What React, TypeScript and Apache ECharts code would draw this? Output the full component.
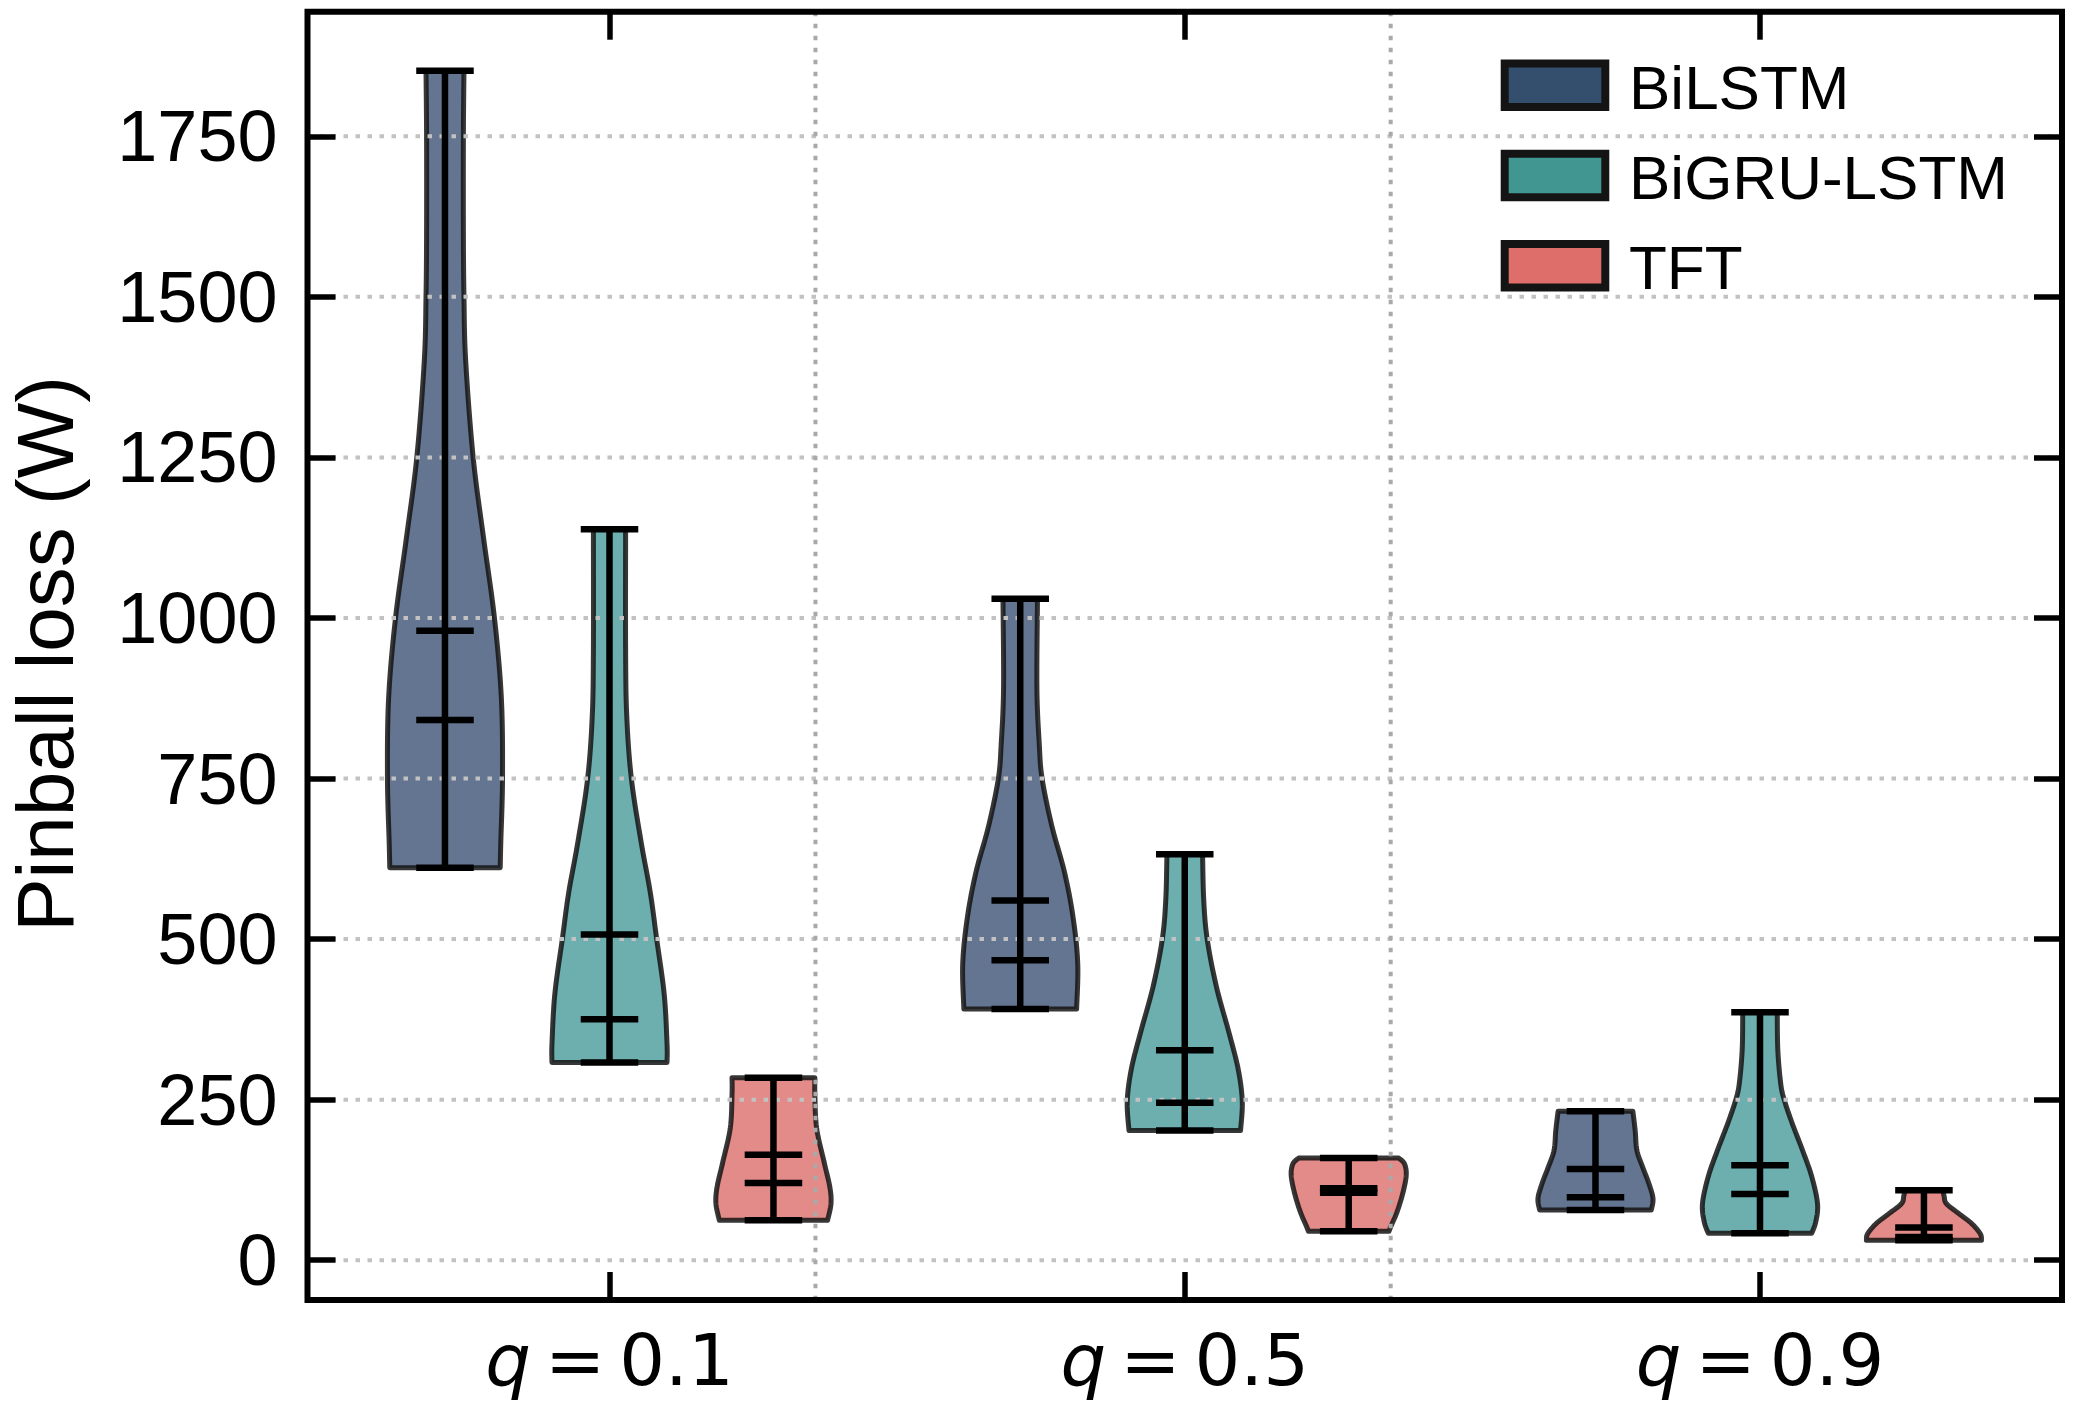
import React, { useEffect, useRef } from "react";
import * as echarts from "echarts";

// ---------- data ----------
const groupLabels = ["0.1", "0.5", "0.9"];
const models = ["BiLSTM", "BiGRU-LSTM", "TFT"];
const modelOffsets = [-0.286, 0, 0.285];
const separators = [0.358, 1.358];
const yTicks = [0, 250, 500, 750, 1000, 1250, 1500, 1750];
const xTicks = [0, 1, 2];

// per group: [min, median, mean, max]
const bilstmStats = [
  [611, 841, 980, 1852],
  [391, 467, 560, 1030],
  [78, 98, 142, 232],
];
const bigruStats = [
  [308, 375, 507, 1138],
  [202, 245, 327, 632],
  [42, 103, 148, 386],
];
const tftStats = [
  [62, 120, 164, 284],
  [45, 105, 112, 159],
  [31, 36, 51, 109],
];

// violin outline: [value, relative half width]
const bilstmProfiles = [
  [[611, 0.96], [650, 0.97], [750, 1.0], [875, 0.98], [1000, 0.86], [1125, 0.67], [1250, 0.49], [1400, 0.36], [1500, 0.33], [1600, 0.32], [1750, 0.32], [1852, 0.33]],
  [[391, 0.98], [461, 1.0], [533, 0.92], [604, 0.77], [676, 0.55], [750, 0.38], [805, 0.33], [890, 0.29], [1030, 0.3]],
  [[78, 0.97], [96, 1.0], [119, 0.93], [145, 0.82], [171, 0.72], [202, 0.69], [232, 0.65]],
];
const bigruProfiles = [
  [[308, 1.0], [337, 1.0], [415, 0.95], [500, 0.82], [572, 0.71], [651, 0.55], [750, 0.38], [847, 0.3], [950, 0.28], [1138, 0.28]],
  [[202, 0.97], [247, 1.0], [297, 0.93], [354, 0.77], [426, 0.55], [500, 0.39], [561, 0.33], [632, 0.31]],
  [[42, 0.9], [60, 0.97], [88, 1.0], [130, 0.9], [171, 0.74], [213, 0.56], [250, 0.42], [275, 0.36], [327, 0.31], [386, 0.3]],
];
const tftProfiles = [
  [[62, 0.94], [88, 1.0], [114, 0.98], [153, 0.88], [206, 0.75], [258, 0.72], [284, 0.72]],
  [[45, 0.7], [54, 0.74], [75, 0.84], [104, 0.94], [132, 1.0], [150, 0.97], [159, 0.87]],
  [[31, 1.0], [41, 0.98], [57, 0.83], [73, 0.6], [88, 0.39], [100, 0.35], [109, 0.33]],
];

const allStats = [bilstmStats, bigruStats, tftStats];
const allProfiles = [bilstmProfiles, bigruProfiles, tftProfiles];

// ---------- style ----------
const violinFills = ["#637590", "#6DAFAE", "#E38B88"];
const legendFills = ["#344F6D", "#419692", "#DD6E69"];
const violinHalfWidth = 0.1;
const capHalfWidth = 0.05;

function catmull(points: number[][], samples = 10): number[][] {
  const out: number[][] = [];
  const n = points.length;
  for (let i = 0; i < n - 1; i++) {
    const p0 = points[Math.max(0, i - 1)];
    const p1 = points[i];
    const p2 = points[i + 1];
    const p3 = points[Math.min(n - 1, i + 2)];
    for (let s = 0; s < samples; s++) {
      const t = s / samples;
      const t2 = t * t;
      const t3 = t2 * t;
      const f = (a: number, b: number, c: number, d: number) =>
        0.5 * (2 * b + (-a + c) * t + (2 * a - 5 * b + 4 * c - d) * t2 + (-a + 3 * b - 3 * c + d) * t3);
      out.push([f(p0[0], p1[0], p2[0], p3[0]), f(p0[1], p1[1], p2[1], p3[1])]);
    }
  }
  out.push(points[n - 1]);
  return out;
}

export default function App() {
  const ref = useRef<HTMLDivElement>(null);

  useEffect(() => {
    if (!ref.current) return;
    const chart = echarts.init(ref.current, null, { renderer: "svg" });

    const violinSeries = models.map((name, m) => ({
      type: "custom",
      name,
      z: 2,
      data: groupLabels.map((_, g) => [g + modelOffsets[m], allStats[m][g][1], g]),
      encode: { x: 0, y: 1 },
      renderItem: (params: any, api: any) => {
        const g = api.value(2);
        const x0 = api.value(0);
        const prof = catmull(allProfiles[m][g] as number[][], 12);
        const right = prof.map(([v, w]) => api.coord([x0 + w * violinHalfWidth, v]));
        const left = prof
          .slice()
          .reverse()
          .map(([v, w]) => api.coord([x0 - w * violinHalfWidth, v]));
        return {
          type: "polygon",
          shape: { points: [...right, ...left] },
          style: {
            fill: violinFills[m],
            stroke: "rgba(20,20,20,0.85)",
            lineWidth: 5,
            lineJoin: "round",
          },
        };
      },
    }));

    const gridSeries = {
      type: "custom",
      name: "grid",
      z: 3,
      silent: true,
      data: [[0, 0]],
      encode: { x: 0, y: 1 },
      renderItem: (params: any, api: any) => {
        const cs = params.coordSys;
        const children: any[] = [];
        yTicks.forEach((t) => {
          const y = api.coord([0, t])[1];
          children.push({
            type: "line",
            shape: { x1: cs.x, y1: y, x2: cs.x + cs.width, y2: y },
            style: { stroke: "#c2c2c2", lineWidth: 4, lineDash: [4.5, 7.5] },
          });
        });
        separators.forEach((s) => {
          const x = api.coord([s, 0])[0];
          children.push({
            type: "line",
            shape: { x1: x, y1: cs.y, x2: x, y2: cs.y + cs.height },
            style: { stroke: "#a9a9a9", lineWidth: 4, lineDash: [4.5, 7.5] },
          });
        });
        return { type: "group", children };
      },
    };

    const whiskerSeries = models.map((name, m) => ({
      type: "custom",
      name: name + "-lines",
      z: 4,
      data: groupLabels.map((_, g) => [g + modelOffsets[m], allStats[m][g][1], g]),
      encode: { x: 0, y: 1 },
      renderItem: (params: any, api: any) => {
        const g = api.value(2);
        const x0 = api.value(0);
        const [mn, med, mean, mx] = allStats[m][g];
        const st = { stroke: "#000", lineWidth: 6.5 };
        const hline = (v: number) => {
          const a = api.coord([x0 - capHalfWidth, v]);
          const b = api.coord([x0 + capHalfWidth, v]);
          return { type: "line", shape: { x1: a[0], y1: a[1], x2: b[0], y2: b[1] }, style: st };
        };
        const top = api.coord([x0, mx]);
        const bot = api.coord([x0, mn]);
        return {
          type: "group",
          children: [
            { type: "line", shape: { x1: top[0], y1: top[1], x2: bot[0], y2: bot[1] }, style: st },
            hline(mn),
            hline(mx),
            hline(med),
            hline(mean),
          ],
        };
      },
    }));

    const tickStyle = {
      show: true,
      inside: true,
      length: 28,
      lineStyle: { color: "#000", width: 5.5 },
    };
    const noLine = { show: false, onZero: false };

    const legendGraphics: any[] = [];
    models.forEach((name, m) => {
      const cy = 85.2 + m * 90.3;
      legendGraphics.push({
        type: "rect",
        shape: { x: 1504.7, y: cy - 21.8, width: 100.6, height: 43.6 },
        style: { fill: legendFills[m], stroke: "#141414", lineWidth: 8 },
        z: 20,
      });
      legendGraphics.push({
        type: "text",
        x: 1629,
        y: cy + 2,
        style: {
          text: name,
          fontFamily: "Liberation Sans",
          fontSize: 62,
          fill: "#000",
          textAlign: "left",
          textVerticalAlign: "middle",
        },
        z: 20,
      });
    });
    legendGraphics.push({
      type: "text",
      x: 45,
      y: 654,
      rotation: Math.PI / 2,
      style: {
        text: "Pinball loss (W)",
        fontFamily: "Liberation Sans",
        fontSize: 80,
        fill: "#000",
        textAlign: "center",
        textVerticalAlign: "middle",
      },
      z: 20,
    });

    const xMin = -0.525;
    const xMax = 2.525;
    const yMin = -62;
    const yMax = 1944;

    chart.setOption({
      animation: false,
      backgroundColor: "#ffffff",
      grid: {
        left: 307.5,
        right: 11,
        top: 11.7,
        bottom: 113,
        show: true,
        borderColor: "#000",
        borderWidth: 6,
        backgroundColor: "transparent",
        z: 10,
      },
      xAxis: [
        {
          type: "value",
          position: "bottom",
          min: xMin,
          max: xMax,
          z: 10,
          axisLine: noLine,
          splitLine: { show: false },
          axisTick: { ...tickStyle, customValues: xTicks },
          axisLabel: {
            show: true,
            customValues: xTicks,
            margin: 24,
            formatter: (v: number) => `{q|q}{e|=}{n|${groupLabels[Math.round(v)]}}`,
            rich: {
              q: { fontFamily: "DejaVu Sans", fontStyle: "italic", fontSize: 72, color: "#000" },
              e: { fontFamily: "DejaVu Sans", fontSize: 72, color: "#000", padding: [0, 14, 0, 14] },
              n: { fontFamily: "DejaVu Sans", fontSize: 72, color: "#000" },
            },
          },
        },
        {
          type: "value",
          position: "top",
          min: xMin,
          max: xMax,
          z: 10,
          axisLine: noLine,
          splitLine: { show: false },
          axisTick: { ...tickStyle, customValues: xTicks },
          axisLabel: { show: false },
        },
      ],
      yAxis: [
        {
          type: "value",
          position: "left",
          min: yMin,
          max: yMax,
          z: 10,
          axisLine: noLine,
          splitLine: { show: false },
          axisTick: { ...tickStyle, customValues: yTicks },
          axisLabel: {
            show: true,
            customValues: yTicks,
            margin: 30,
            fontFamily: "Liberation Sans",
            fontSize: 72,
            color: "#000",
            formatter: (v: number) => String(v),
          },
        },
        {
          type: "value",
          position: "right",
          min: yMin,
          max: yMax,
          z: 10,
          axisLine: noLine,
          splitLine: { show: false },
          axisTick: { ...tickStyle, customValues: yTicks },
          axisLabel: { show: false },
        },
      ],
      graphic: legendGraphics,
      series: [...violinSeries, gridSeries, ...whiskerSeries],
    });

    return () => chart.dispose();
  }, []);

  return (
    <div
      ref={ref}
      style={{ position: "fixed", left: 0, top: 0, width: 2073, height: 1413, background: "#fff" }}
    />
  );
}
